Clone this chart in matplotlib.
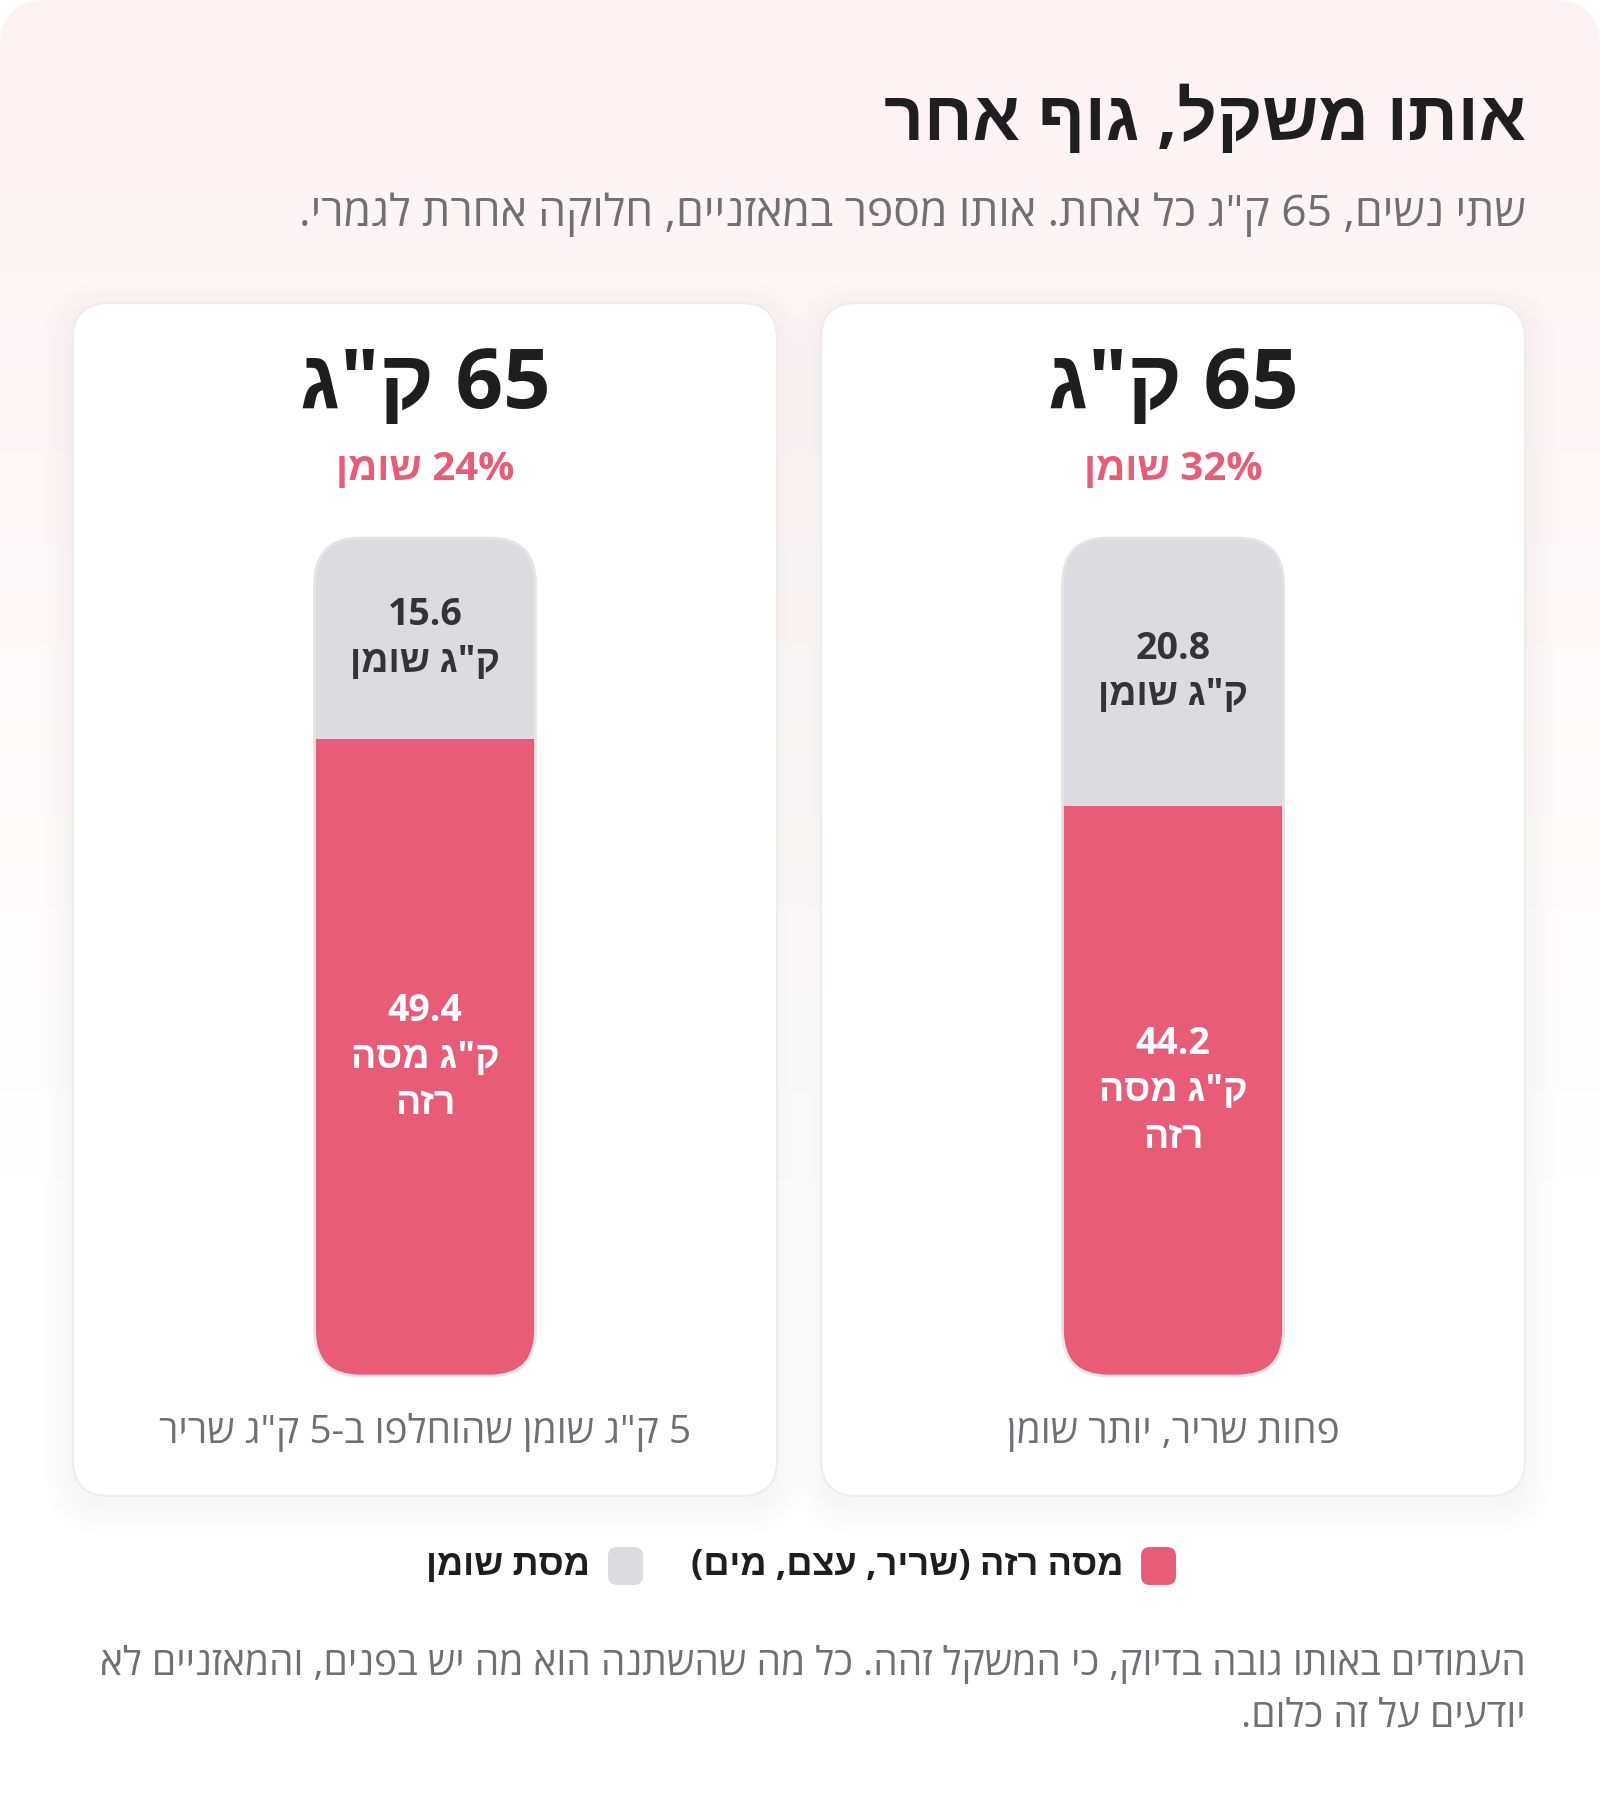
import re
import numpy as np
import matplotlib.pyplot as plt
from matplotlib.patches import FancyBboxPatch

plt.rcParams['font.family'] = ['Open Sans', 'Liberation Sans', 'DejaVu Sans']

# --- data (index 0 = right card, index 1 = left card) ---
total_kg = [65, 65]
fat_pct = [32, 24]
fat_kg = [20.8, 15.6]
lean_kg = [44.2, 49.4]
captions = ['פחות שריר, יותר שומן', '5 ק"ג שומן שהוחלפו ב-5 ק"ג שריר']

title = 'אותו משקל, גוף אחר'
subtitle = 'שתי נשים, 65 ק"ג כל אחת. אותו מספר במאזניים, חלוקה אחרת לגמרי.'
legend_labels = ['מסה רזה (שריר, עצם, מים)', 'מסת שומן']
footer = ['העמודים באותו גובה בדיוק, כי המשקל זהה. כל מה שהשתנה הוא מה יש בפנים, והמאזניים לא',
          'יודעים על זה כלום.']

PINK = '#e85c77'
GRAY = '#dcdbe0'
DARK = '#1e1e20'
MUTED = '#6f6f75'

MIRROR = str.maketrans('()', ')(')


def vis(s):
    # hebrew logical -> visual order (numbers stay left-to-right)
    r = s.translate(MIRROR)[::-1]
    return re.sub(r'[0-9.%]+', lambda m: m.group(0)[::-1], r)


W, H = 1600, 1816
fig = plt.figure(figsize=(W / 100, H / 100), dpi=100)
fig.patch.set_facecolor('white')
ax = fig.add_axes([0, 0, 1, 1])
ax.set_xlim(0, W)
ax.set_ylim(H, 0)
ax.axis('off')

# background with soft pink gradient
bg = FancyBboxPatch((0, 0), W, H + 60, boxstyle='round,pad=0,rounding_size=46',
                    facecolor='none', edgecolor='none', transform=ax.transData)
ax.add_patch(bg)
top = np.array([253, 242, 244]) / 255
bot = np.array([255, 255, 255]) / 255
t = np.clip(np.linspace(0, 1, 400) / 0.65, 0, 1)[:, None]
grad = (top * (1 - t) + bot * t)[:, None, :]
im = ax.imshow(grad, extent=[0, W, H, 0], aspect='auto', zorder=0)
im.set_clip_path(bg)

ax.text(1526, 122, vis(title), ha='right', va='center', fontsize=50,
        fontweight='bold', color=DARK)
ax.text(1526, 215, vis(subtitle), ha='right', va='center', fontsize=32,
        color=MUTED)

card_cx = [1173, 425]
card_w, card_top, card_bot = 704, 303, 1496
bar_w, bar_top, bar_bot = 221, 538, 1376

for i in range(2):
    cx = card_cx[i]
    x0 = cx - card_w / 2
    # shadow
    for k in range(8):
        g = 2 + k * 4
        sh = FancyBboxPatch((x0 - g, card_top - g + 10), card_w + 2 * g, card_bot - card_top + 2 * g,
                            boxstyle='round,pad=0,rounding_size=%d' % (36 + g),
                            facecolor='#a09098', edgecolor='none', alpha=0.006, zorder=1)
        ax.add_patch(sh)
    card = FancyBboxPatch((x0, card_top), card_w, card_bot - card_top,
                          boxstyle='round,pad=0,rounding_size=36',
                          facecolor='white', edgecolor='#efeced', lw=1.5, zorder=2)
    ax.add_patch(card)

    ax.text(cx, 386, vis(f'{total_kg[i]} ק"ג'), ha='center', va='center',
            fontsize=60, fontweight='bold', color=DARK, zorder=3)
    ax.text(cx, 470, vis(f'{fat_pct[i]}% שומן'), ha='center', va='center',
            fontsize=29, fontweight='bold', color=PINK, zorder=3)
    ax.text(cx, 1433, vis(captions[i]), ha='center', va='center',
            fontsize=28, color=MUTED, zorder=3)

    # stacked bar in its own axes
    bx0 = cx - bar_w / 2
    bax = fig.add_axes([bx0 / W, 1 - bar_bot / H, bar_w / W, (bar_bot - bar_top) / H])
    bax.set_xlim(-0.5, 0.5)
    bax.set_ylim(0, total_kg[i])
    bax.axis('off')
    clip = FancyBboxPatch((bx0, bar_top), bar_w, bar_bot - bar_top,
                          boxstyle='round,pad=0,rounding_size=46', transform=ax.transData)
    b1 = bax.bar(0, lean_kg[i], width=1, color=PINK)
    b2 = bax.bar(0, fat_kg[i], bottom=lean_kg[i], width=1, color=GRAY)
    for p in list(b1) + list(b2):
        p.set_clip_path(clip)
    outline = FancyBboxPatch((bx0, bar_top), bar_w, bar_bot - bar_top,
                             boxstyle='round,pad=0,rounding_size=46', transform=ax.transData,
                             facecolor='none', edgecolor='#e4e3e6', lw=2, clip_on=False)
    bax.add_patch(outline)

    fat_lbl = '\n'.join([f'{fat_kg[i]}', vis('ק"ג שומן')])
    lean_lbl = '\n'.join([f'{lean_kg[i]}', vis('ק"ג מסה'), vis('רזה')])
    bax.text(0, lean_kg[i] + fat_kg[i] / 2, fat_lbl, ha='center', va='center',
             fontsize=27, fontweight='bold', color='#333338', linespacing=1.3)
    bax.text(0, lean_kg[i] / 2, lean_lbl, ha='center', va='center',
             fontsize=27, fontweight='bold', color='white', linespacing=1.3)

# legend
leg_colors = [PINK, GRAY]
leg_sq_x = [1141, 608]
for i in range(2):
    sq = FancyBboxPatch((leg_sq_x[i], 1547), 35, 38, boxstyle='round,pad=0,rounding_size=9',
                        facecolor=leg_colors[i], edgecolor='none', zorder=3)
    ax.add_patch(sq)
    ax.text(leg_sq_x[i] - 18, 1566, vis(legend_labels[i]), ha='right', va='center',
            fontsize=26, fontweight='bold', color=DARK, zorder=3)

ax.text(1526, 1664, vis(footer[0]), ha='right', va='center', fontsize=28, color=MUTED)
ax.text(1526, 1716, vis(footer[1]), ha='right', va='center', fontsize=28, color=MUTED)

fig.savefig('out.png', dpi=100, facecolor='white')
